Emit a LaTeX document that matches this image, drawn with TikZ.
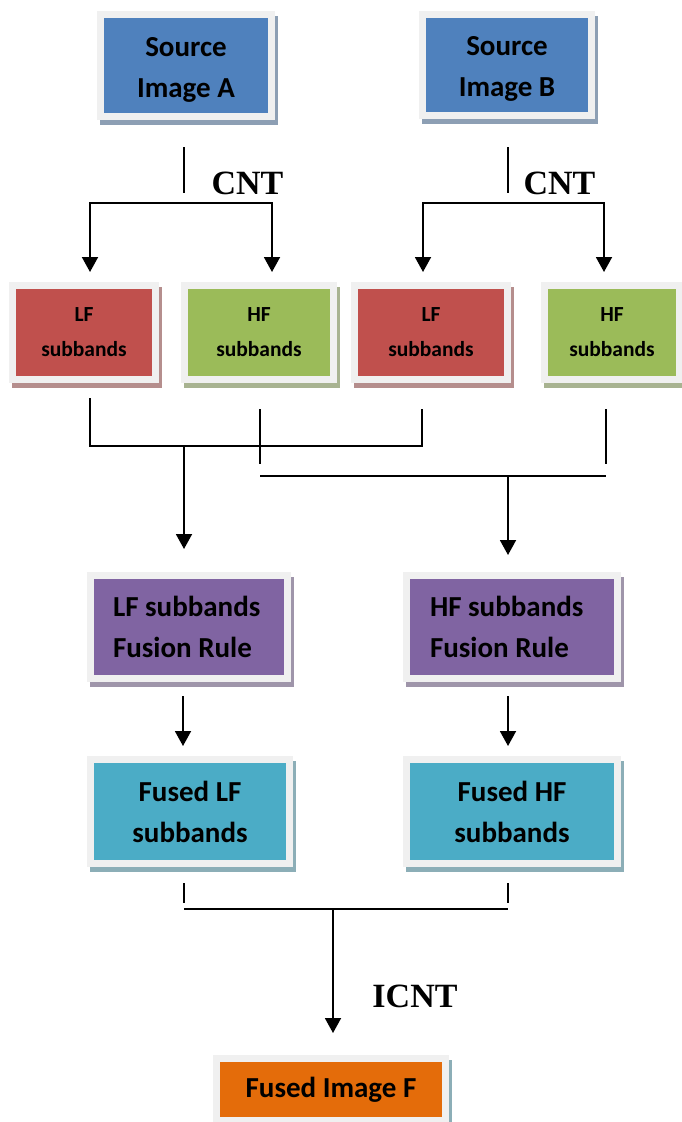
\documentclass[tikz,border=0pt]{standalone}
\usepackage{fontspec}
\setmainfont{Carlito}
\newfontfamily\tnr{Liberation Serif}
\usetikzlibrary{shadows,arrows.meta}
\definecolor{blueC}{RGB}{79,129,189}
\definecolor{redC}{RGB}{192,80,77}
\definecolor{greenC}{RGB}{155,187,89}
\definecolor{purpleC}{RGB}{128,100,162}
\definecolor{aquaC}{RGB}{75,172,198}
\definecolor{orangeC}{RGB}{228,108,10}
\definecolor{framec}{RGB}{240,240,240}
\definecolor{shc}{RGB}{175,175,175}
\newcommand\lowerstack[2]{\raisebox{-#1}[\height][\depth]{\begin{tabular}{@{}c@{}}#2\end{tabular}}}
\begin{document}
\begin{tikzpicture}[x=1pt,y=-1pt,
  box/.style 2 args={draw=framec, line width=7pt, fill=#1, inner sep=0pt, align=center,
     font=\bfseries\fontsize{29}{41}\selectfont,
     general shadow={shadow xshift=3pt, shadow yshift=-5pt, fill=#2, draw=#2, line width=7pt}},
  smalltext/.style={font=\bfseries\fontsize{21.5}{35}\selectfont},
  ln/.style={line width=1.9pt, draw=black},
  arr/.style={ln, -{Triangle[width=16pt,length=15pt]}},
  barr/.style={ln, {Triangle[width=16pt,length=15pt]}-{Triangle[width=16pt,length=15pt]}},
  lbl/.style={font=\tnr\bfseries\fontsize{34}{34}\selectfont, anchor=base, inner sep=0pt}
]
\useasboundingbox (0,0) rectangle (681,1122);

% boxes
\node[box={blueC}{blueC!35!shc}, minimum width=171pt, minimum height=102pt] (srcA) at (186,65.5) {\lowerstack{3pt}{Source\\Image A}};
\node[box={blueC}{blueC!35!shc}, minimum width=169pt, minimum height=101pt] (srcB) at (507,65) {\lowerstack{3pt}{Source\\Image B}};

\node[box={redC}{redC!35!shc}, smalltext, minimum width=143pt, minimum height=94pt] (lf1) at (84,332.5) {LF\\subbands};
\node[box={greenC}{greenC!35!shc}, smalltext, minimum width=149pt, minimum height=94pt] (hf1) at (259,332.5) {HF\\subbands};
\node[box={redC}{redC!35!shc}, smalltext, minimum width=153pt, minimum height=94pt] (lf2) at (431,332.5) {LF\\subbands};
\node[box={greenC}{greenC!35!shc}, smalltext, minimum width=135pt, minimum height=94pt] (hf2) at (612,332.5) {HF\\subbands};

\node[box={purpleC}{purpleC!35!shc}, text width=152pt, align=flush left, minimum width=197pt, minimum height=103pt] (frl) at (189,627) {LF subbands\\Fusion Rule};
\node[box={purpleC}{purpleC!35!shc}, text width=164pt, align=flush left, minimum width=211pt, minimum height=103pt] (frh) at (512,627) {HF subbands\\Fusion Rule};

\node[box={aquaC}{aquaC!35!shc}, minimum width=199pt, minimum height=104pt] (flf) at (190,811.5) {Fused LF\\subbands};
\node[box={aquaC}{aquaC!35!shc}, minimum width=211pt, minimum height=104pt] (fhf) at (512,811.5) {Fused HF\\subbands};

\node[box={orangeC}{aquaC!35!shc}, minimum width=229pt, minimum height=62pt] (fim) at (331,1089.5) {Fused Image F};

% labels
\node[lbl] (cntA) at (247.5,194) {CNT};
\node[lbl] (cntB) at (559.5,194) {CNT};
\node[lbl] (icnt) at (415,1007) {ICNT};

% top connectors
\coordinate (a1) at (184,147); \coordinate (a2) at (184,193);
\draw[ln] (a1) -- (a2);
\coordinate (aL) at (90,203); \coordinate (aR) at (272,203);
\draw[barr] (90,272) -- (aL) -- (aR) -- (272,272);
\coordinate (b1) at (508,147); \coordinate (b2) at (508,193);
\draw[ln] (b1) -- (b2);
\coordinate (bL) at (423,203); \coordinate (bR) at (604,203);
\draw[barr] (423,272) -- (bL) -- (bR) -- (604,272);

% middle connectors
\coordinate (m1) at (90,398); \coordinate (m2) at (90,446);
\coordinate (m3) at (422,446); \coordinate (m4) at (422,409);
\draw[ln] (m1) -- (m2) -- (m3) -- (m4);
\coordinate (m5) at (184,446);
\draw[arr] (m5) -- (184,549);
\coordinate (h1) at (260,409); \coordinate (h2) at (260,464);
\draw[ln] (h1) -- (h2);
\coordinate (h3) at (606,409); \coordinate (h4) at (606,464);
\draw[ln] (h3) -- (h4);
\coordinate (h5) at (260,476); \coordinate (h6) at (606,476);
\draw[ln] (h5) -- (h6);
\coordinate (h7) at (508,476);
\draw[arr] (h7) -- (508,555);

% fusion -> fused
\draw[arr] (183,696) -- (183,746);
\draw[arr] (508,696) -- (508,746);

% bottom
\draw[ln] (184,883) -- (184,903);
\draw[ln] (508,883) -- (508,903);
\coordinate (f1) at (184,909); \coordinate (f2) at (508,909);
\draw[ln] (f1) -- (f2);
\coordinate (f3) at (333,909);
\draw[arr] (f3) -- (333,1033);
\end{tikzpicture}
\end{document}
